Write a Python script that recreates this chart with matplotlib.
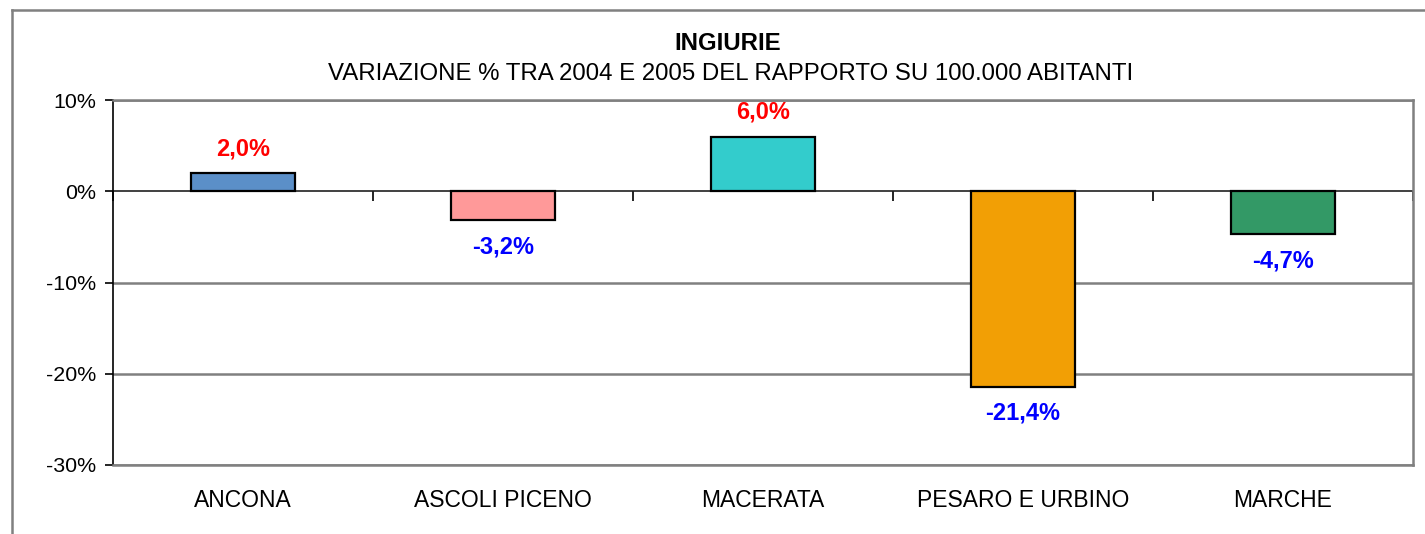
import numpy as np
import matplotlib
matplotlib.use('Agg')
import matplotlib.pyplot as plt
from matplotlib.lines import Line2D

plt.rcParams['font.family'] = ['Liberation Sans', 'DejaVu Sans']

# dati
categorie = ['ANCONA', 'ASCOLI PICENO', 'MACERATA', 'PESARO E URBINO', 'MARCHE']
variazioni = [2.0, -3.2, 6.0, -21.4, -4.7]
colori = ['#5B8FC8', '#FF9999', '#33CCCC', '#F29F05', '#339966']
y_ticks = [10, 0, -10, -20, -30]

titolo = 'INGIURIE'
sottotitolo = 'VARIAZIONE % TRA 2004 E 2005 DEL RAPPORTO SU 100.000 ABITANTI'

W, H = 1425, 534
fig = plt.figure(figsize=(W / 100, H / 100), dpi=100)
ax = fig.add_axes([113 / W, 1 - 465 / H, 1300 / W, 365 / H])

x = np.arange(len(categorie))
ax.bar(x, variazioni, width=0.4, color=colori, edgecolor='black', linewidth=1.6, zorder=3)

# etichette valori
for xi, v in zip(x, variazioni):
    testo = f'{v:.1f}%'.replace('.', ',')
    if v >= 0:
        ax.annotate(testo, (xi, v), xytext=(0, 9), textcoords='offset points',
                    ha='center', va='bottom', color='#FF0000',
                    fontsize=17, fontweight='bold')
    else:
        ax.annotate(testo, (xi, v), xytext=(0, -11), textcoords='offset points',
                    ha='center', va='top', color='#0000FF',
                    fontsize=17, fontweight='bold')

ax.set_xlim(-0.5, len(categorie) - 0.5)
ax.set_ylim(-30, 10)
ax.set_yticks(y_ticks)
ax.set_yticklabels([f'{t}%' for t in y_ticks], fontsize=15.4)
ax.tick_params(axis='y', length=6, width=1.2, color='black', pad=6)

ax.set_xticks(x)
ax.set_xticklabels(categorie, fontsize=16.5)
ax.tick_params(axis='x', length=0, pad=17)

# griglia
for t in y_ticks:
    if t != 0:
        ax.axhline(t, color='#808080', linewidth=1.8, zorder=1)
ax.axhline(0, color='#202020', linewidth=1.2, zorder=2)

for lato in ['top', 'right', 'bottom']:
    ax.spines[lato].set_color('#808080')
    ax.spines[lato].set_linewidth(1.8)
ax.spines['left'].set_color('black')
ax.spines['left'].set_linewidth(1.2)

# tacche sull'asse dello zero
asse0 = ax.secondary_xaxis(0, transform=ax.transData)
asse0.set_xticks(np.arange(len(categorie) + 1) - 0.5)
asse0.set_xticklabels([])
asse0.tick_params(length=7, width=1.2, color='black')
asse0.spines['bottom'].set_visible(False)

# titoli
fig.text(728 / W, 1 - 44 / H, titolo, ha='center', va='center',
         fontsize=17.3, fontweight='bold')
fig.text(731 / W, 1 - 74 / H, sottotitolo, ha='center', va='center', fontsize=17.3)

# cornice esterna
fig.add_artist(Line2D([12 / W, 1], [1 - 10 / H, 1 - 10 / H], color='#808080', linewidth=1.8))
fig.add_artist(Line2D([12 / W, 12 / W], [0, 1 - 10 / H], color='#808080', linewidth=1.8))

fig.savefig('out.png', dpi=100)
